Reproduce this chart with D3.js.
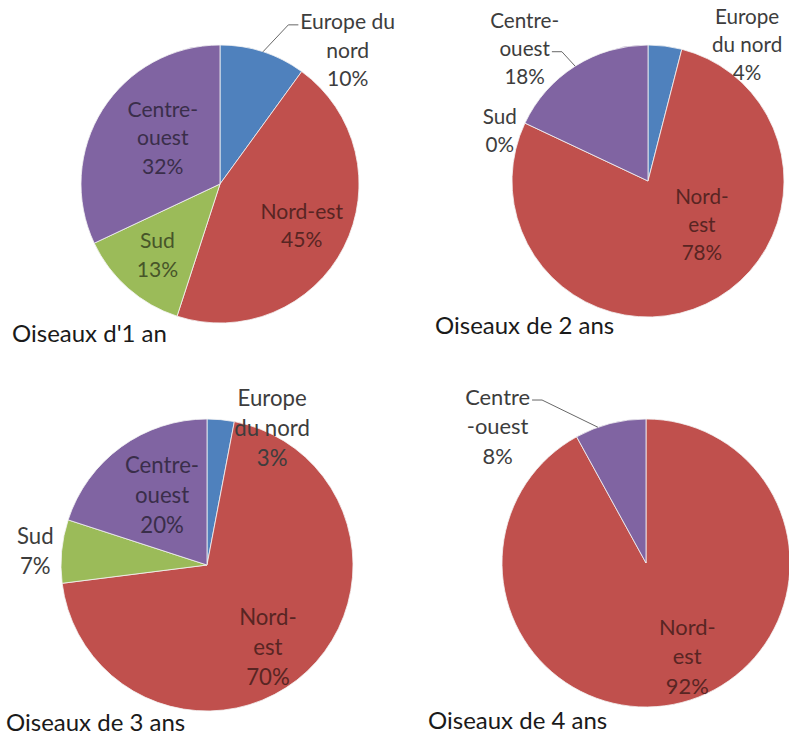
<!DOCTYPE html>
<html>
<head>
<meta charset="utf-8">
<script src="https://cdn.jsdelivr.net/npm/d3@7"></script>
<style>
  html, body { margin: 0; padding: 0; background: #fff; }
  svg { display: block; }
  text { font-family: Lato, "Open Sans", sans-serif; }
</style>
</head>
<body>
<svg id="chart" width="789" height="740"></svg>
<script>
// Régions de destination, dans l'ordre des secteurs (sens horaire depuis midi)
const categories = ["Europe du nord", "Nord-est", "Sud", "Centre-ouest"];

// Répartition (%) par âge des oiseaux
const titles = ["Oiseaux d'1 an", "Oiseaux de 2 ans", "Oiseaux de 3 ans", "Oiseaux de 4 ans"];
const valuesAge1 = [10, 45, 13, 32];
const valuesAge2 = [4, 78, 0, 18];
const valuesAge3 = [3, 70, 7, 20];
const valuesAge4 = [0, 92, 0, 8];

const seriesByAge = [valuesAge1, valuesAge2, valuesAge3, valuesAge4];

const color = d3.scaleOrdinal()
  .domain(categories)
  .range(["#4f81bd", "#c0504d", "#9bbb59", "#8064a2"]);

// Mise en page de chaque camembert : centre, rayon, titre, étiquettes.
// angle : direction de l'étiquette en degrés (null = milieu du secteur) ; k : distance en rayons.
// leader : ligne de texte reliée au secteur ; leaderAngle : point d'attache sur l'arc.
const layouts = [
  { cx: 220, cy: 184, r: 139, tx: 12, ty: 342,
    labels: {
      "Europe du nord": { lines: ["Europe du", "nord"], angle: 43.7, k: 1.33, outside: true, leader: 0 },
      "Nord-est": { lines: ["Nord-est"], angle: null, k: 0.66 },
      "Sud": { lines: ["Sud"], angle: null, k: 0.68 },
      "Centre-ouest": { lines: ["Centre-", "ouest"], angle: 309, k: 0.53 }
    } },
  { cx: 648, cy: 181, r: 136, tx: 435, ty: 334,
    labels: {
      "Europe du nord": { lines: ["Europe", "du nord"], angle: 36, k: 1.24, outside: true },
      "Nord-est": { lines: ["Nord-", "est"], angle: 129, k: 0.51 },
      "Sud": { lines: ["Sud"], angle: 288.7, k: 1.15, outside: true },
      "Centre-ouest": { lines: ["Centre-", "ouest"], angle: 317, k: 1.33, outside: true, leader: 1 }
    } },
  { cx: 207, cy: 565, r: 146, tx: 6, ty: 731,
    labels: {
      "Europe du nord": { lines: ["Europe", "du nord"], angle: 25.4, k: 1.04, outside: true },
      "Nord-est": { lines: ["Nord-", "est"], angle: 143.4, k: 0.70 },
      "Sud": { lines: ["Sud"], angle: 274.7, k: 1.18, outside: true },
      "Centre-ouest": { lines: ["Centre-", "ouest"], angle: 327.3, k: 0.57 }
    } },
  { cx: 646, cy: 563, r: 144, tx: 428, ty: 729,
    labels: {
      "Nord-est": { lines: ["Nord-", "est"], angle: 156.2, k: 0.71 },
      "Centre-ouest": { lines: ["Centre", "-ouest"], angle: 312.6, k: 1.40, outside: true, leader: 0, leaderAngle: 340.5 }
    } }
];

const svg = d3.select("#chart");
const pie = d3.pie().sort(null).value(d => d.value);
const rad = deg => deg * Math.PI / 180;
const ring = rr => d3.arc().innerRadius(rr).outerRadius(rr);

seriesByAge.forEach((values, i) => {
  const L = layouts[i];
  const data = categories.map((c, j) => ({ cat: c, value: values[j] }));
  const arcs = pie(data);
  const arc = d3.arc().innerRadius(0).outerRadius(L.r);
  const g = svg.append("g").attr("transform", `translate(${L.cx},${L.cy})`);

  g.selectAll("path.slice")
    .data(arcs.filter(a => a.data.value > 0))
    .join("path")
    .attr("class", "slice")
    .attr("d", arc)
    .attr("fill", d => color(d.data.cat))
    .attr("stroke", "#f4f4f4")
    .attr("stroke-width", 0.8);

  const fontSize = L.r * 0.152;
  const lineH = L.r * 0.205;

  arcs.forEach(a => {
    const lab = L.labels[a.data.cat];
    if (!lab) return;
    const mid = (a.startAngle + a.endAngle) / 2;
    const ang = lab.angle == null ? mid : rad(lab.angle);
    const pos = ring(lab.k * L.r).centroid({ startAngle: ang, endAngle: ang });
    const lines = lab.lines.concat([a.data.value + "%"]);
    const y0 = pos[1] - (lines.length - 1) * lineH / 2;
    const fill = lab.outside ? "#3d3d3d" : d3.color(color(a.data.cat)).darker(2.2).formatHex();

    const t = g.append("text")
      .attr("text-anchor", "middle")
      .attr("font-size", fontSize)
      .attr("fill", fill);
    const spans = lines.map((ln, li) =>
      t.append("tspan")
        .attr("x", pos[0])
        .attr("y", y0 + li * lineH)
        .attr("dy", "0.35em")
        .text(ln));

    if (lab.leader != null) {
      // ligne de rappel : du bord du secteur vers une ligne du texte
      const la = lab.leaderAngle != null ? rad(lab.leaderAngle) : mid;
      const edge = ring(L.r).centroid({ startAngle: la, endAngle: la });
      const w = spans[lab.leader].node().getComputedTextLength();
      const onRight = pos[0] > edge[0];
      const tx = onRight ? pos[0] - w / 2 - 2 : pos[0] + w / 2 + 2;
      const ty = y0 + lab.leader * lineH + 3;
      const knee = onRight ? tx - 10 : tx + 10;
      g.append("path")
        .attr("d", d3.line()([edge, [knee, ty], [tx, ty]]))
        .attr("fill", "none")
        .attr("stroke", "#404040")
        .attr("stroke-width", 0.8);
    }
  });

  svg.append("text")
    .attr("x", L.tx)
    .attr("y", L.ty)
    .attr("font-size", 24)
    .attr("fill", "#1a1a1a")
    .text(titles[i]);
});
</script>
</body>
</html>
